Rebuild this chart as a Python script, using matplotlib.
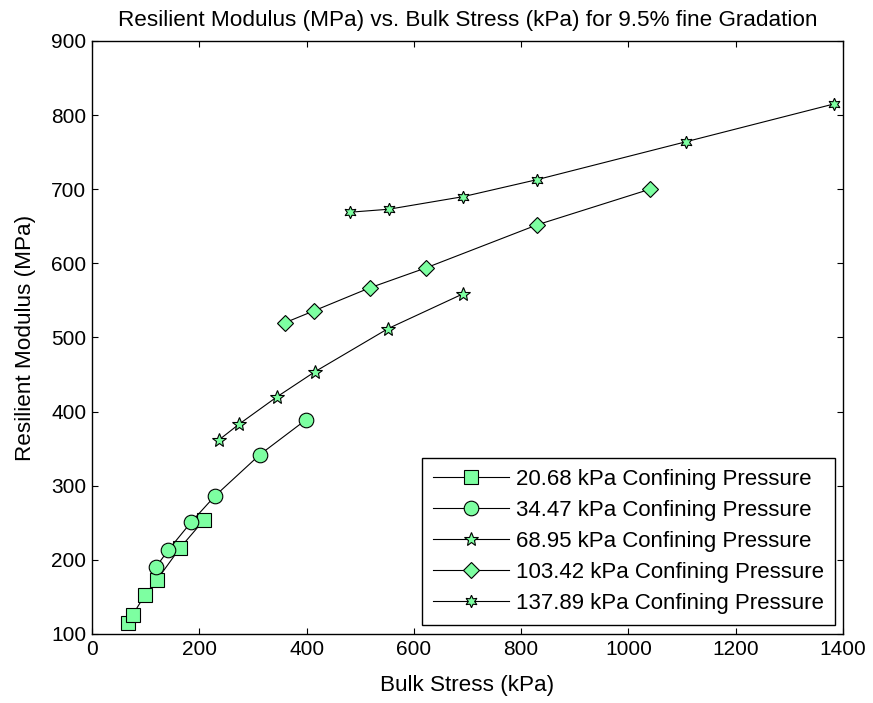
import matplotlib.pyplot as plt

plt.rcParams['font.family'] = ['Liberation Sans', 'DejaVu Sans']

# bulk stress (kPa) and resilient modulus (MPa) per confining pressure
bs_2068 = [67, 76, 99, 121, 164, 209]
mr_2068 = [115, 126, 153, 173, 216, 254]
bs_3447 = [119, 142, 185, 229, 313, 399]
mr_3447 = [190, 213, 251, 286, 342, 389]
bs_6895 = [237, 274, 345, 416, 552, 692]
mr_6895 = [362, 383, 420, 454, 512, 559]
bs_10342 = [360, 414, 518, 623, 830, 1040]
mr_10342 = [520, 536, 567, 594, 652, 700]
bs_13789 = [481, 553, 692, 830, 1107, 1383]
mr_13789 = [669, 673, 690, 713, 764, 815]

labels = ['20.68 kPa Confining Pressure', '34.47 kPa Confining Pressure',
          '68.95 kPa Confining Pressure', '103.42 kPa Confining Pressure',
          '137.89 kPa Confining Pressure']

face = '#7dffa1'
fig = plt.figure(figsize=(8.73, 7.03), dpi=100)
ax = fig.add_axes([0.1054, 0.0982, 0.8602, 0.8435])

ax.plot(bs_2068, mr_2068, '-', color='k', lw=0.8, marker='s', ms=10, mfc=face, mec='k', mew=0.8, label=labels[0])
ax.plot(bs_3447, mr_3447, '-', color='k', lw=0.8, marker='o', ms=10.5, mfc=face, mec='k', mew=0.8, label=labels[1])
ax.plot(bs_6895, mr_6895, '-', color='k', lw=0.8, marker='*', ms=10, mfc=face, mec='k', mew=0.8, label=labels[2])
ax.plot(bs_10342, mr_10342, '-', color='k', lw=0.8, marker='D', ms=8.5, mfc=face, mec='k', mew=0.8, label=labels[3])
ax.plot(bs_13789, mr_13789, '-', color='k', lw=0.8, marker=(6, 1, 0), ms=9, mfc=face, mec='k', mew=0.8, label=labels[4])

ax.set_xlim(0, 1400)
ax.set_ylim(100, 900)
ax.set_xticks(range(0, 1401, 200))
ax.set_yticks(range(100, 901, 100))
ax.tick_params(direction='in', top=True, right=True, labelsize=15, length=4, pad=4)
for s in ax.spines.values():
    s.set_linewidth(1.0)

ax.set_xlabel('Bulk Stress (kPa)', fontsize=16.2, labelpad=12)
ax.set_ylabel('Resilient Modulus (MPa)', fontsize=16.2, labelpad=11)
ax.set_title('Resilient Modulus (MPa) vs. Bulk Stress (kPa) for 9.5% fine Gradation', fontsize=16.2, pad=11)

leg = ax.legend(loc='lower right', fontsize=16, fancybox=False, edgecolor='k',
                framealpha=1, borderpad=0.5, handlelength=3.4, handletextpad=0.35,
                labelspacing=0.45, borderaxespad=0, bbox_to_anchor=(0.99, 0.015))
leg.get_frame().set_linewidth(1.0)

fig.savefig('out.png', dpi=100)
